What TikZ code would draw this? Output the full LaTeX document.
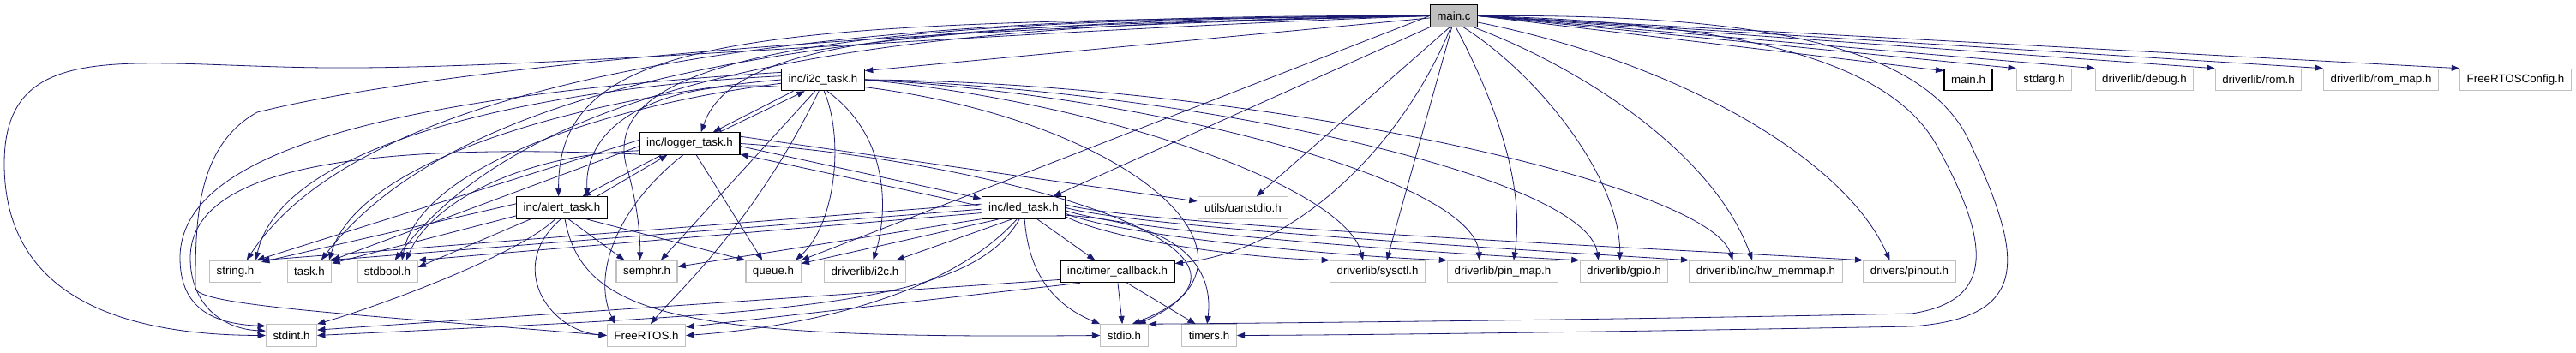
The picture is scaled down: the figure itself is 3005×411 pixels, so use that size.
\documentclass[tikz,border=0pt]{standalone}
\usepackage{fontspec}
\setmainfont{Liberation Sans}
\usepackage{tikz}
\usetikzlibrary{arrows.meta}
\definecolor{edgeblue}{RGB}{25,25,112}
\definecolor{extgrey}{RGB}{191,191,191}
\definecolor{maingrey}{RGB}{191,191,191}
\tikzset{
  filebox/.style={rectangle, draw=black, fill=white, line width=0.9pt,
    minimum height=19pt, inner xsep=6pt, inner ysep=0pt,
    font=\fontsize{10}{12}\selectfont},
  extbox/.style={filebox, draw=extgrey},
  mainbox/.style={filebox, fill=maingrey},
  dep/.style={-{Triangle[length=7pt,width=5.2pt]}, line width=0.6pt, color=edgeblue}
}

\begin{document}
\begin{tikzpicture}[x=0.75pt, y=0.75pt]
  \useasboundingbox (0,0) rectangle (3005,411);

  % Top file
  \node[mainbox] (mainc) at (1696,392.5) {main.c};

  % First row
  \node[filebox] (i2c) at (960,318) {inc/i2c\_task.h};
  \node[filebox] (mainh) at (2296,318) {main.h};
  \node[extbox] (stdarg) at (2384.5,318) {stdarg.h};
  \node[extbox] (debug) at (2501.5,318) {driverlib/debug.h};
  \node[extbox] (rom) at (2634.5,318) {driverlib/rom.h};
  \node[extbox] (rommap) at (2777.5,318) {driverlib/rom\_map.h};
  \node[extbox] (frcfg) at (2934.5,318) {FreeRTOSConfig.h};

  % Task headers
  \node[filebox] (logger) at (804.5,243.5) {inc/logger\_task.h};
  \node[filebox] (alert) at (655.5,168.5) {inc/alert\_task.h};
  \node[filebox] (led) at (1194,168.5) {inc/led\_task.h};
  \node[extbox] (uart) at (1450,168.5) {utils/uartstdio.h};

  % Library row
  \node[extbox] (string) at (274.5,94) {string.h};
  \node[extbox] (task) at (361,94) {task.h};
  \node[extbox] (stdbool) at (452,94) {stdbool.h};
  \node[extbox] (semphr) at (754.5,94) {semphr.h};
  \node[extbox] (queue) at (902,94) {queue.h};
  \node[extbox] (i2ch) at (1009,94) {driverlib/i2c.h};
  \node[filebox] (timercb) at (1303.5,94) {inc/timer\_callback.h};
  \node[extbox] (sysctl) at (1607,94) {driverlib/sysctl.h};
  \node[extbox] (pinmap) at (1753,94) {driverlib/pin\_map.h};
  \node[extbox] (gpio) at (1894.5,94) {driverlib/gpio.h};
  \node[extbox] (memmap) at (2060,94) {driverlib/inc/hw\_memmap.h};
  \node[extbox] (pinout) at (2227.5,94) {drivers/pinout.h};

  % Bottom row
  \node[extbox] (stdint) at (340,19.5) {stdint.h};
  \node[extbox] (freertos) at (754,19.5) {FreeRTOS.h};
  \node[extbox] (stdio) at (1311.5,19.5) {stdio.h};
  \node[extbox] (timers) at (1410.5,19.5) {timers.h};

  % main.c to the right
  \draw[dep] (mainc.east) -- (mainh.160);
  \foreach \dst in {stdarg, debug, rom, rommap, frcfg}
    \draw[dep] (mainc.east) -- (\dst.north west);

  % main.c to the task headers
  \draw[dep] (mainc.185) -- (i2c.12);
  \draw[dep] (mainc.west) .. controls (1150,380) and (860,380) .. (logger.45);
  \draw[dep] (mainc.west) .. controls (900,385) and (650,380) .. (alert.106);
  \draw[dep] (mainc.south west) -- (led.21);
  \draw[dep] (mainc.255) .. controls (1640,250) and (1520,120) .. (timercb.8);
  \draw[dep] (mainc.250) -- (uart.40);

  % main.c to driverlib
  \draw[dep] (mainc.260) -- (sysctl.51);
  \draw[dep] (mainc.280) .. controls (1740,300) and (1780,200) .. (pinmap.46);
  \draw[dep] (mainc.310) .. controls (1800,320) and (1890,200) .. (gpio.110);
  \draw[dep] (mainc.330) .. controls (1850,330) and (2000,230) .. (memmap.140);
  \draw[dep] (mainc.345) .. controls (1950,340) and (2150,230) .. (pinout.150);

  % main.c to the left
  \draw[dep] (mainc.west) .. controls (1100,395) and (450,355) .. (string.45);
  \draw[dep] (mainc.west) .. controls (1100,390) and (560,350) .. (task.44);
  \draw[dep] (mainc.west) .. controls (1100,385) and (640,345) .. (stdbool.57);
  \draw[dep] (mainc.west) .. controls (1000,390) and (700,350) .. (730,220)
    .. controls (745,170) and (747,130) .. (semphr.121);
  \draw[dep] (mainc.west) -- (queue.north east);
  \draw[dep] (mainc.west) .. controls (1100,372) and (650,330) .. (380,332)
    .. controls (150,334) and (5,370) .. (5,220)
    .. controls (5,60) and (150,20) .. (stdint.west);
  \draw[dep] (mainc.west) .. controls (1000,378) and (500,330) .. (300,280)
    .. controls (228,240) and (228,150) .. (228,75)
    .. controls (228,55) and (400,45) .. (freertos.west);

  % main.c round the right side
  \draw[dep] (mainc.east) .. controls (2000,385) and (2200,350) .. (2260,240)
    .. controls (2320,130) and (2330,60) .. (2230,45)
    .. controls (1900,38) and (1500,34) .. (stdio.north east);
  \draw[dep] (mainc.east) .. controls (2050,395) and (2250,360) .. (2300,240)
    .. controls (2360,110) and (2370,40) .. (2230,30)
    .. controls (1900,24) and (1600,20) .. (timers.east);

  % i2c_task.h
  \draw[dep] (i2c.201) -- (logger.26);
  \draw[dep] (i2c.190) .. controls (800,320) and (680,280) .. (alert.24);
  \draw[dep] (i2c.175) .. controls (650,310) and (330,250) .. (string.29);
  \draw[dep] (i2c.180) .. controls (700,300) and (420,230) .. (task.30);
  \draw[dep] (i2c.185) .. controls (720,290) and (490,220) .. (stdbool.38);
  \draw[dep] (i2c.170) .. controls (480,300) and (210,240) .. (210,110)
    .. controls (210,50) and (250,33) .. (stdint.160);
  \draw[dep] (i2c.235) -- (semphr.39);
  \draw[dep] (i2c.250) .. controls (880,150) and (790,70) .. (freertos.70);
  \draw[dep] (i2c.275) .. controls (985,250) and (975,150) .. (queue.27);
  \draw[dep] (i2c.290) .. controls (1040,250) and (1035,160) .. (i2ch.54);
  \draw[dep] (i2c.350) .. controls (1320,270) and (1500,110) .. (stdio.40);
  \draw[dep] (i2c.east) .. controls (1300,290) and (1570,190) .. (sysctl.142);
  \draw[dep] (i2c.east) .. controls (1350,300) and (1720,200) .. (pinmap.154);
  \draw[dep] (i2c.east) .. controls (1400,305) and (1850,205) .. (gpio.156);
  \draw[dep] (i2c.east) .. controls (1450,315) and (1990,200) .. (memmap.161);

  % logger_task.h
  \draw[dep] (logger.21) -- (i2c.212);
  \draw[dep] (logger.202) -- (alert.29);
  \draw[dep] (logger.357) -- (led.168);
  \draw[dep] (logger.8) -- (uart.172);
  \draw[dep] (logger.176) -- (string.28);
  \draw[dep] (logger.183) -- (task.north east);
  \draw[dep] (logger.188) .. controls (600,230) and (500,170) .. (stdbool.31);
  \draw[dep] (logger.192) .. controls (420,245) and (222,215) .. (222,110)
    .. controls (222,55) and (260,27) .. (stdint.170);
  \draw[dep] (logger.240) .. controls (720,170) and (690,90) .. (freertos.160);
  \draw[dep] (logger.300) -- (queue.134);
  \draw[dep] (logger.east) .. controls (1150,225) and (1540,120) .. (stdio.55);

  % alert_task.h
  \draw[dep] (alert.18) -- (logger.207);
  \draw[dep] (alert.175) -- (string.20);
  \draw[dep] (alert.190) -- (task.20);
  \draw[dep] (alert.200) -- (stdbool.8);
  \draw[dep] (alert.300) -- (semphr.153);
  \draw[dep] (alert.335) -- (queue.north west);
  \draw[dep] (alert.240) .. controls (600,110) and (430,50) .. (stdint.north east);
  \draw[dep] (alert.265) .. controls (590,100) and (640,25) .. (freertos.west);
  \draw[dep] (alert.285) .. controls (680,40) and (800,15) .. (stdio.west);

  % led_task.h
  \draw[dep] (led.178) -- (logger.348);
  \draw[dep] (led.320) -- (timercb.153);
  \draw[dep] (led.175) -- (string.north east);
  \draw[dep] (led.182) -- (task.30);
  \draw[dep] (led.187) -- (stdbool.north east);
  \draw[dep] (led.195) -- (semphr.9);
  \draw[dep] (led.205) -- (queue.16);
  \draw[dep] (led.225) -- (i2ch.20);
  \draw[dep] (led.250) .. controls (1130,50) and (900,45) .. (stdint.east);
  \draw[dep] (led.240) .. controls (1110,70) and (950,30) .. (freertos.east);
  \draw[dep] (led.275) .. controls (1200,90) and (1230,55) .. (stdio.north west);
  \draw[dep] (led.350) .. controls (1390,150) and (1415,90) .. (timers.100);
  \draw[dep] (led.4) .. controls (1330,148) and (1950,120) .. (pinout.north west);
  \draw[dep] (led.0) .. controls (1330,145) and (1800,118) .. (memmap.north west);
  \draw[dep] (led.356) .. controls (1320,140) and (1680,115) .. (gpio.north west);
  \draw[dep] (led.352) .. controls (1310,135) and (1560,112) .. (pinmap.north west);
  \draw[dep] (led.348) .. controls (1300,130) and (1450,110) .. (sysctl.north west);

  % timer_callback.h
  \draw[dep] (timercb.188) -- (stdint.12);
  \draw[dep] (timercb.197) -- (freertos.12);
  \draw[dep] (timercb.272) -- (stdio.100);
  \draw[dep] (timercb.310) -- (timers.140);
\end{tikzpicture}
\end{document}
